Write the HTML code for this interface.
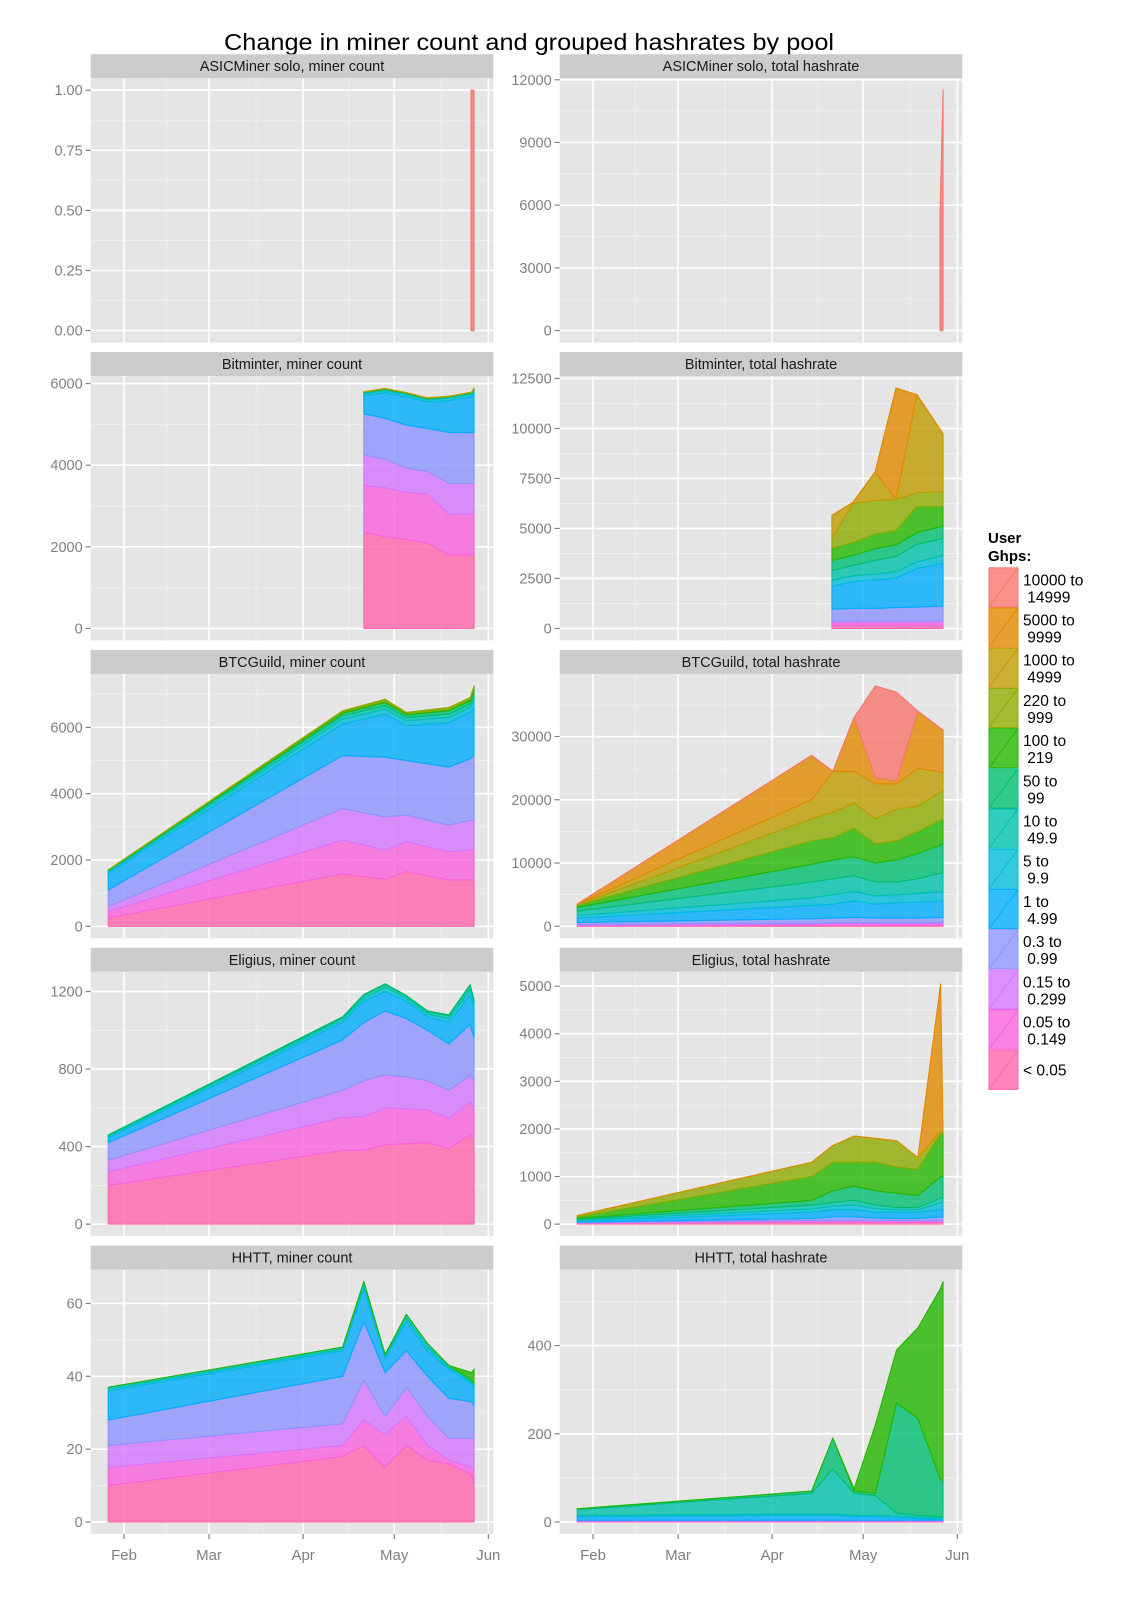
<!DOCTYPE html>
<html><head><meta charset="utf-8"><style>
html,body{margin:0;padding:0;background:#fff;}
svg{display:block;font-family:"Liberation Sans",sans-serif;}
</style></head><body>
<svg id="chart" width="1138" height="1600" viewBox="0 0 1138 1600" xmlns="http://www.w3.org/2000/svg">
<text x="529" y="50" font-size="23" text-anchor="middle" fill="#000" textLength="610" lengthAdjust="spacingAndGlyphs">Change in miner count and grouped hashrates by pool</text>
<g id="panels"></g>
<g id="legend"></g>
</svg>
<script>
// Category labels (bottom of stack first)
const categories = ['< 0.05','0.05 to 0.149','0.15 to 0.299','0.3 to 0.99','1 to 4.99','5 to 9.9','10 to 49.9','50 to 99','100 to 219','220 to 999','1000 to 4999','5000 to 9999','10000 to 14999'];
const legendLine1 = ['< 0.05','0.05 to','0.15 to','0.3 to','1 to','5 to','10 to','50 to','100 to','220 to','1000 to','5000 to','10000 to'];
const legendLine2 = ['',' 0.149',' 0.299',' 0.99',' 4.99',' 9.9',' 49.9',' 99',' 219',' 999',' 4999',' 9999',' 14999'];
const colors = ['#FF65AC','#F962DD','#D575FE','#8B93FF','#00ACFC','#00BBDA','#00C1AB','#00BE70','#24B700','#8CAB00','#BE9C00','#E18A00','#F8766D'];
const monthDays = [0,28,59,89,120];
const monthLabels = ['Feb','Mar','Apr','May','Jun'];

// dates are days since Feb 1
const asicCountDates = [114.3,115.3];
const asicCount = [[0,0],[0,0],[0,0],[0,0],[0,0],[0,0],[0,0],[0,0],[0,0],[0,0],[0,0],[0,0],[1,1]];
const asicHashDates = [114.3,115.3];
const asicHash = [[0,0],[0,0],[0,0],[0,0],[0,0],[0,0],[0,0],[0,0],[0,0],[0,0],[0,0],[0,0],[5500,11500]];

const bitminterCountDates = [79,86,93,100,107,114.5,115.3];
const bitminterCount = [
 [2350,2250,2180,2100,1800,1800,1800],
 [1150,1200,1150,1200,1000,1000,1000],
 [750,700,600,550,750,750,750],
 [1010,1000,1050,1050,1250,1250,1250],
 [440,630,700,650,780,880,960],
 [50,50,50,50,60,60,70],
 [30,30,30,30,30,30,40],
 [10,10,10,10,10,10,10],
 [5,5,5,5,5,5,5],
 [3,3,3,3,3,3,3],
 [2,2,2,2,2,2,2],
 [0,0,0,0,0,0,0],
 [0,0,0,0,0,0,0]];
const bitminterHashDates = [78.7,85.6,92.9,99.8,106.7,115.3];
const bitminterHash = [
 [150,150,150,150,150,150],
 [130,130,130,130,130,130],
 [100,100,100,100,100,100],
 [580,620,620,660,690,740],
 [1140,1340,1430,1470,1930,2130],
 [300,290,290,320,320,400],
 [500,520,680,770,880,850],
 [500,500,580,580,590,620],
 [610,650,730,700,1310,980],
 [490,1950,1690,1570,690,730],
 [1150,50,1420,10,4900,2900],
 [0,0,0,5560,0,0],
 [0,0,0,0,0,0]];

const btcguildCountDates = [-5.2,72,86,93,107,114,115.3];
const btcguildCount = [
 [250,1580,1420,1650,1400,1400,1400],
 [200,1020,880,900,850,900,900],
 [150,950,1000,800,800,900,900],
 [500,1600,1800,1650,1750,1850,1950],
 [500,950,1300,1050,1350,1400,1450],
 [50,150,150,150,150,150,200],
 [30,100,100,100,100,100,150],
 [10,70,100,80,100,100,150],
 [5,50,50,40,50,50,100],
 [5,30,50,30,50,50,50],
 [0,0,0,0,0,0,0],
 [0,0,0,0,0,0,0],
 [0,0,0,0,0,0,0]];
const btcguildHashDates = [-5.2,72,79,86,93,100,107,115.3];
const btcguildHash = [
 [100,200,220,250,220,220,220,250],
 [100,150,160,150,160,160,160,150],
 [100,150,170,200,170,170,170,200],
 [300,700,750,800,750,750,750,800],
 [700,2100,2200,2600,2200,2400,2500,2600],
 [400,1200,1500,1500,1300,1300,1400,1500],
 [700,2500,2500,2500,2200,2000,2300,3000],
 [600,2800,3000,3000,3000,3500,4000,4500],
 [300,3700,3500,4500,3000,3000,3500,4000],
 [100,3500,4000,4000,4000,5000,4000,4500],
 [100,3000,6500,5000,5500,4000,6000,2800],
 [0,7000,0,8500,1000,500,9000,6700],
 [0,0,0,0,14500,14000,0,0]];

const eligiusCountDates = [-5.2,72,79,86,93,100,107,114,115.3];
const eligiusCount = [
 [200,380,380,410,415,420,390,460,440],
 [70,170,175,190,180,170,155,170,160],
 [60,140,185,170,165,150,145,140,140],
 [90,260,300,330,300,260,240,260,220],
 [25,90,110,100,90,70,110,150,160],
 [8,15,15,20,15,15,20,30,20],
 [5,10,15,15,10,10,15,20,15],
 [2,5,5,5,5,5,5,5,5],
 [0,0,0,0,0,0,0,0,0],
 [0,0,0,0,0,0,0,0,0],
 [0,0,0,0,0,0,0,0,0],
 [0,0,0,0,0,0,0,0,0],
 [0,0,0,0,0,0,0,0,0]];
const eligiusHashDates = [-5.2,72,79,86,93,100,107,114.5,115.3];
const eligiusHash = [
 [20,40,40,40,40,40,40,40,40],
 [5,20,20,20,20,20,20,20,20],
 [5,20,20,20,20,20,20,20,20],
 [10,40,70,70,50,40,40,70,70],
 [20,130,150,150,120,130,130,150,150],
 [20,70,80,100,80,50,50,150,150],
 [20,80,70,100,70,50,50,100,100],
 [20,100,250,300,300,300,250,450,450],
 [30,500,600,500,600,550,550,900,900],
 [30,300,350,550,500,550,250,50,50],
 [0,0,0,0,0,0,0,0,0],
 [0,0,0,0,0,0,0,3100,0],
 [0,0,0,0,0,0,0,0,0]];

const hhttCountDates = [-5.2,72,79,86,93,100,107,114.5,115.3];
const hhttCount = [
 [10,18,21,15,21,17,16,13,10],
 [5,3,7,9,8,4,1,2,4],
 [6,6,11,5,8,8,6,8,9],
 [7,13,16,12,10,11,11,10,9],
 [8,7,9,4,8,7,8,5,5],
 [0.5,0.5,1,0.5,1,1,0.5,0.5,0.5],
 [0.5,0.5,1,0.5,1,1,0.5,0.5,0.5],
 [0,0,0,0,0,0,0,0,0],
 [0,0,0,0,0,0,0,2,4],
 [0,0,0,0,0,0,0,0,0],
 [0,0,0,0,0,0,0,0,0],
 [0,0,0,0,0,0,0,0,0],
 [0,0,0,0,0,0,0,0,0]];
const hhttHashDates = [-5.2,72,79,86,93,100,107,114.5,115.3];
const hhttHash = [
 [1,1,1,1,1,1,1,1,1],
 [1,1,1,1,1,1,1,1,1],
 [1,1,1,1,1,1,1,1,1],
 [1,1,1,1,1,1,1,1,1],
 [8,11,11,8,8,6,4,2,2],
 [3,3,3,3,3,3,3,3,3],
 [13,47,102,50,45,7,4,3,1],
 [2,5,70,5,5,250,220,83,85],
 [0,0,0,5,155,120,205,435,450],
 [0,0,0,0,0,0,0,0,0],
 [0,0,0,0,0,0,0,0,0],
 [0,0,0,0,0,0,0,0,0],
 [0,0,0,0,0,0,0,0,0]];

// tick values
const ticksAsicCount = [0,0.25,0.5,0.75,1];
const ticksAsicHash = [0,3000,6000,9000,12000];
const ticksBitminterCount = [0,2000,4000,6000];
const ticksBitminterHash = [0,2500,5000,7500,10000,12500];
const ticksBtcguildCount = [0,2000,4000,6000];
const ticksBtcguildHash = [0,10000,20000,30000];
const ticksEligiusCount = [0,400,800,1200];
const ticksEligiusHash = [0,1000,2000,3000,4000,5000];
const ticksHhttCount = [0,20,40,60];
const ticksHhttHash = [0,200,400];

const panels = [
 {title:'ASICMiner solo, miner count', slug:'asicminer-count', row:0,col:0,dates:asicCountDates,vals:asicCount,ticks:ticksAsicCount,fmt:v=>v.toFixed(2)},
 {title:'ASICMiner solo, total hashrate', slug:'asicminer-hashrate', row:0,col:1,dates:asicHashDates,vals:asicHash,ticks:ticksAsicHash},
 {title:'Bitminter, miner count', slug:'bitminter-count', row:1,col:0,dates:bitminterCountDates,vals:bitminterCount,ticks:ticksBitminterCount},
 {title:'Bitminter, total hashrate', slug:'bitminter-hashrate', row:1,col:1,dates:bitminterHashDates,vals:bitminterHash,ticks:ticksBitminterHash},
 {title:'BTCGuild, miner count', slug:'btcguild-count', row:2,col:0,dates:btcguildCountDates,vals:btcguildCount,ticks:ticksBtcguildCount},
 {title:'BTCGuild, total hashrate', slug:'btcguild-hashrate', row:2,col:1,dates:btcguildHashDates,vals:btcguildHash,ticks:ticksBtcguildHash},
 {title:'Eligius, miner count', slug:'eligius-count', row:3,col:0,dates:eligiusCountDates,vals:eligiusCount,ticks:ticksEligiusCount},
 {title:'Eligius, total hashrate', slug:'eligius-hashrate', row:3,col:1,dates:eligiusHashDates,vals:eligiusHash,ticks:ticksEligiusHash},
 {title:'HHTT, miner count', slug:'hhtt-count', row:4,col:0,dates:hhttCountDates,vals:hhttCount,ticks:ticksHhttCount},
 {title:'HHTT, total hashrate', slug:'hhtt-hashrate', row:4,col:1,dates:hhttHashDates,vals:hhttHash,ticks:ticksHhttHash}
];

const NS='http://www.w3.org/2000/svg';
function mk(tag, attrs, parent){const e=document.createElementNS(NS,tag);for(const k in attrs)e.setAttribute(k,attrs[k]);if(parent)parent.appendChild(e);return e;}
const root=document.getElementById('panels');
const PW=402.6, PH=264.4, SH=24, PITCH=297.85, TOP0=54.2, LEFT0=90.7, COLOFF=469, X0=124, PXD=3.036;

panels.forEach(p=>{
  const g=mk('g',{},root);
  
  
  const sTop=TOP0+p.row*PITCH, pTop=sTop+SH, pLeft=LEFT0+p.col*COLOFF;
  const xs=d=>X0+p.col*COLOFF+d*PXD;
  // stacked totals
  const n=p.dates.length;
  const cum=[]; let run=new Array(n).fill(0);
  p.vals.forEach(row=>{run=run.map((v,i)=>v+row[i]);cum.push(run.slice());});
  const M=Math.max(...run);
  const ys=v=>pTop+(1.05*M-v)/(1.1*M)*PH;
  const bg=mk('rect',{x:pLeft,y:pTop,width:PW,height:PH,fill:'#E5E5E5'},g);
  
  
  // minor grid
  const t=p.ticks, step=t[1]-t[0];
  const minorY=[]; for(let v=t[0]-step/2; v<=1.05*M; v+=step){ if(v>=-0.05*M) minorY.push(v); }
  minorY.forEach(v=>mk('line',{x1:pLeft,x2:pLeft+PW,y1:ys(v),y2:ys(v),stroke:'#F2F2F2','stroke-width':0.8},g));
  const minorX=[-15.5,14,43.5,74,104.5];
  minorX.forEach(d=>{const x=xs(d); if(x>pLeft&&x<pLeft+PW) mk('line',{x1:x,x2:x,y1:pTop,y2:pTop+PH,stroke:'#F2F2F2','stroke-width':0.8},g);});
  // major grid
  t.forEach(v=>mk('line',{x1:pLeft,x2:pLeft+PW,y1:ys(v),y2:ys(v),stroke:'#FFFFFF','stroke-width':1.6},g));
  monthDays.forEach(d=>{const x=xs(d); if(x>pLeft&&x<pLeft+PW) mk('line',{x1:x,x2:x,y1:pTop,y2:pTop+PH,stroke:'#FFFFFF','stroke-width':1.6},g);});
  // bands
  cum.forEach((top,k)=>{
    const bot=k?cum[k-1]:new Array(n).fill(0);
    if(top.every((v,i)=>v===bot[i])) return;
    let pts=[]; for(let i=0;i<n;i++)pts.push(xs(p.dates[i]).toFixed(2)+','+ys(top[i]).toFixed(2));
    for(let i=n-1;i>=0;i--)pts.push(xs(p.dates[i]).toFixed(2)+','+ys(bot[i]).toFixed(2));
    const poly=mk('polygon',{points:pts.join(' '),fill:colors[k],'fill-opacity':0.8,stroke:colors[k],'stroke-width':1.1,'stroke-linejoin':'round'},g);
    
    
  });
  // strip
  const strip=mk('rect',{x:pLeft,y:sTop,width:PW,height:SH,fill:'#CCCCCC'},g);
  
  
  const st=mk('text',{x:pLeft+PW/2,y:sTop+17,'font-size':14.5,'text-anchor':'middle',fill:'#1A1A1A'},g);
  st.textContent=p.title;
  
  
  // y ticks
  t.forEach(v=>{
    const y=ys(v);
    mk('line',{x1:pLeft-5,x2:pLeft,y1:y,y2:y,stroke:'#7F7F7F','stroke-width':1.2},g);
    const tl=mk('text',{x:pLeft-8,y:y+5,'font-size':14.5,'text-anchor':'end',fill:'#7F7F7F'},g);
    tl.textContent=p.fmt?p.fmt(v):String(v);
    
    
  });
  // x axis on bottom row
  if(p.row===4){
    monthDays.forEach((d,i)=>{
      const x=xs(d);
      mk('line',{x1:x,x2:x,y1:pTop+PH,y2:pTop+PH+5,stroke:'#7F7F7F','stroke-width':1.2},g);
      const xl=mk('text',{x:x,y:pTop+PH+26,'font-size':15,'text-anchor':'middle',fill:'#7F7F7F'},g);
      xl.textContent=monthLabels[i];
      
      
    });
  }
});

// legend
const lg=document.getElementById('legend');
const lt1=mk('text',{x:988,y:543,'font-size':15,'font-weight':'bold',fill:'#000'},lg);
lt1.textContent='User';


const lt2=mk('text',{x:988,y:561,'font-size':15,'font-weight':'bold',fill:'#000'},lg);
lt2.textContent='Ghps:';


for(let j=0;j<13;j++){
  const k=12-j; const y=567.3+j*40.2;
  const eg=mk('g',{},lg);
  
  
  mk('rect',{x:988.5,y:y,width:30,height:40.2,fill:'#FFFFFF'},eg);
  mk('rect',{x:989,y:y+0.5,width:29,height:39.2,fill:colors[k],'fill-opacity':0.8,stroke:colors[k],'stroke-width':1},eg);
  mk('line',{x1:989,y1:y+39.7,x2:1018,y2:y+0.5,stroke:colors[k],'stroke-width':1},eg);
  if(legendLine2[k]){
    const a=mk('text',{x:1023,y:y+18,'font-size':15.5,fill:'#000','xml:space':'preserve'},eg); a.textContent=legendLine1[k];
    const b=mk('text',{x:1023,y:y+35,'font-size':15.5,fill:'#000','xml:space':'preserve'},eg); b.textContent='\u00A0'+legendLine2[k].trim();
  } else {
    const a=mk('text',{x:1023,y:y+26,'font-size':15.5,fill:'#000'},eg); a.textContent=legendLine1[k];
  }
}
</script>
</body></html>
